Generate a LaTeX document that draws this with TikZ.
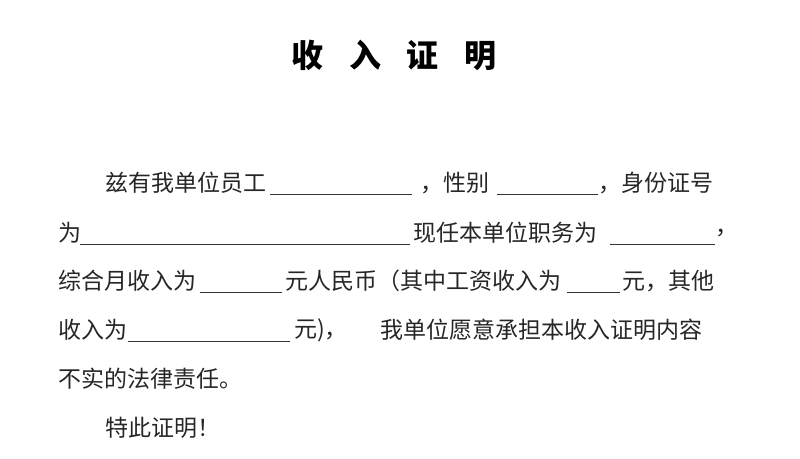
\documentclass[tikz,border=0pt]{standalone}
\usepackage{fontspec}
\newfontfamily\cjk{Noto Sans CJK SC}
\begin{document}
\begin{tikzpicture}[x=1pt,y=-1pt,
  txt/.style={anchor=west,inner sep=0pt,font=\cjk\fontsize{23}{23}\selectfont,text=black!85},
  ul/.style={line width=0.8pt,black!80}]
\useasboundingbox[fill=white] (0,0) rectangle (800,458);
\node[anchor=center,inner sep=0pt,font=\cjk\bfseries\fontsize{32}{32}\selectfont] (title) at (394,55) {收\hspace{0.8em}入\hspace{0.8em}证\hspace{0.8em}明};
% line 1
\node[txt] (a1) at (105,183) {兹有我单位员工};
\draw[ul] (270,194) -- (412,194);
\node[txt] (a2) at (420,183) {，性别};
\draw[ul] (497,194) -- (598,194);
\node[txt] (a3) at (598,183) {，身份证号};
% line 2
\node[txt] (b1) at (58,233) {为};
\draw[ul] (80,244) -- (410,244);
\node[txt] (b2) at (413,233) {现任本单位职务为};
\draw[ul] (610,244) -- (715,244);
\node[txt] (b3) at (715,233) {，};
% line 3
\node[txt] (c1) at (58,281) {综合月收入为};
\draw[ul] (200,292) -- (282,292);
\node[txt] (c2) at (285,281) {元人民币（其中工资收入为};
\draw[ul] (567,292) -- (620,292);
\node[txt] (c3) at (622,281) {元，其他};
% line 4
\node[txt] (d1) at (58,330) {收入为};
\draw[ul] (128,341) -- (290,341);
\node[txt] (d2) at (294,330) {元)，};
\node[txt] (d3) at (380,330) {我单位愿意承担本收入证明内容};
% line 5
\node[txt] (e1) at (58,379) {不实的法律责任。};
% line 6
\node[txt] (f1) at (105,428) {特此证明！};
\end{tikzpicture}
\end{document}
